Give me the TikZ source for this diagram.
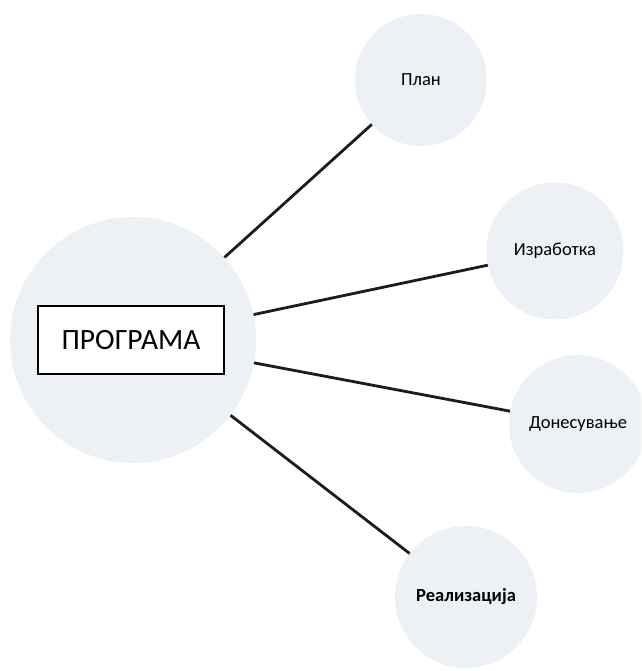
\documentclass[tikz,border=0pt]{standalone}
\usepackage{fontspec}
\setmainfont{Carlito}
\usepackage{tikz}
\usetikzlibrary{positioning}
\definecolor{bubblefill}{RGB}{237,240,244}
\definecolor{ink}{RGB}{28,28,28}

\begin{document}
\begin{tikzpicture}[
  x=1pt, y=1pt,
  bubble/.style={circle, fill=bubblefill, inner sep=0pt, align=center,
                 font=\fontsize{18.5}{22}\selectfont},
  spoke/.style={line width=2.8pt, draw=ink},
  titlebox/.style={draw=black, line width=1.6pt, fill=white, minimum width=186pt,
                   minimum height=68pt, font=\fontsize{29.5}{34}\selectfont},
]
  \useasboundingbox (0,0) rectangle (641,-671);
  \clip (0,0) rectangle (641,-671);

  % centre
  \node[bubble, minimum size=246pt] (prog) at (133,-340) {};
  \node[titlebox] (title) at (131,-340) {ПРОГРАМА};

  % stages
  \node[bubble, minimum size=132pt] (plan) at (421,-80) {План};
  \node[bubble, minimum size=137pt] (izrabotka) at (555,-251) {Изработка};
  \node[bubble, minimum size=138pt] (donesuvanje) at (578,-424) {Донесување};
  \node[bubble, minimum size=142pt, font=\fontsize{18.5}{22}\selectfont\bfseries] (realizacija) at (466,-597) {Реализација};

  % connectors
  \draw[spoke] (prog) -- (plan);
  \draw[spoke] (prog) -- (izrabotka);
  \draw[spoke] (prog) -- (donesuvanje);
  \draw[spoke] (prog) -- (realizacija);
\end{tikzpicture}
\end{document}
